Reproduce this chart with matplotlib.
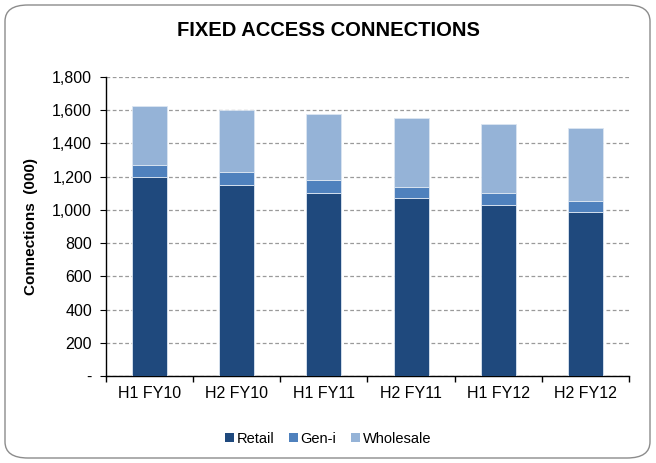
import matplotlib
matplotlib.use("Agg")
import matplotlib.pyplot as plt
import matplotlib.ticker as mticker
from matplotlib.patches import FancyBboxPatch, Patch
import numpy as np

plt.rcParams["font.family"] = ["Liberation Sans", "DejaVu Sans"]

periods = ["H1 FY10", "H2 FY10", "H1 FY11", "H2 FY11", "H1 FY12", "H2 FY12"]
retail = [1200, 1150, 1099, 1069, 1027, 985]
gen_i = [70, 78, 81, 69, 72, 66]
wholesale = [355, 375, 397, 415, 420, 444]

COLORS = {
    "Retail": "#1F497D",
    "Gen-i": "#4F81BD",
    "Wholesale": "#95B3D7",
}

fig = plt.figure(figsize=(6.56, 4.63), dpi=100)
ax = fig.add_axes([106 / 656, 1 - 376 / 463, (629 - 106) / 656, (376 - 77) / 463])

# rounded frame around the whole chart
frame = FancyBboxPatch((5 / 656, 5 / 463), 645 / 656, 453 / 463,
                       boxstyle="round,pad=0,rounding_size=0.035",
                       transform=fig.transFigure, facecolor="white",
                       edgecolor="#8c8c8c", linewidth=1.0, zorder=-10)
fig.patches.append(frame)

x = np.arange(len(periods))
width = 0.4
edge = "#dce6f2"
ax.bar(x, retail, width, color=COLORS["Retail"], edgecolor=edge, linewidth=0.6, zorder=3)
ax.bar(x, gen_i, width, bottom=retail, color=COLORS["Gen-i"], edgecolor=edge,
       linewidth=0.6, zorder=3)
base = np.array(retail) + np.array(gen_i)
ax.bar(x, wholesale, width, bottom=base, color=COLORS["Wholesale"], edgecolor=edge,
       linewidth=0.6, zorder=3)

ax.set_xlim(-0.5, len(periods) - 0.5)
ax.set_ylim(0, 1800)
ax.yaxis.set_major_locator(mticker.MultipleLocator(200))
ax.yaxis.set_major_formatter(
    mticker.FuncFormatter(lambda v, p: "-" if v == 0 else f"{int(v):,}"))
ax.grid(True, axis="y", color="#9a9a9a", linestyle=(0, (3, 2)), linewidth=0.9, zorder=0)

ax.set_xticks(x)
ax.set_xticklabels(periods, fontsize=11.5)
ax.tick_params(axis="x", length=0, pad=7)
ax.set_xticks(np.arange(-0.5, len(periods)), minor=True)
ax.tick_params(axis="x", which="minor", length=4, direction="out", width=1)
ax.tick_params(axis="y", length=4, direction="out", labelsize=11.5, pad=6)

for s in ["top", "right"]:
    ax.spines[s].set_visible(False)
ax.spines["left"].set_linewidth(1)
ax.spines["bottom"].set_linewidth(1)

ax.set_ylabel("Connections  (000)", fontsize=11, fontweight="bold", labelpad=10)
fig.text(0.5, 1 - 31 / 463, "FIXED ACCESS CONNECTIONS", ha="center", va="center",
         fontsize=14.5, fontweight="bold")

handles = [Patch(facecolor=COLORS[k], edgecolor="none", label=k) for k in COLORS]
fig.legend(handles=handles, loc="center", bbox_to_anchor=(0.5, 1 - 439 / 463),
           ncol=3, frameon=False, fontsize=10.5, handlelength=0.6, handleheight=0.6,
           handletextpad=0.2, columnspacing=1.0)

fig.savefig("out.png", dpi=100)
